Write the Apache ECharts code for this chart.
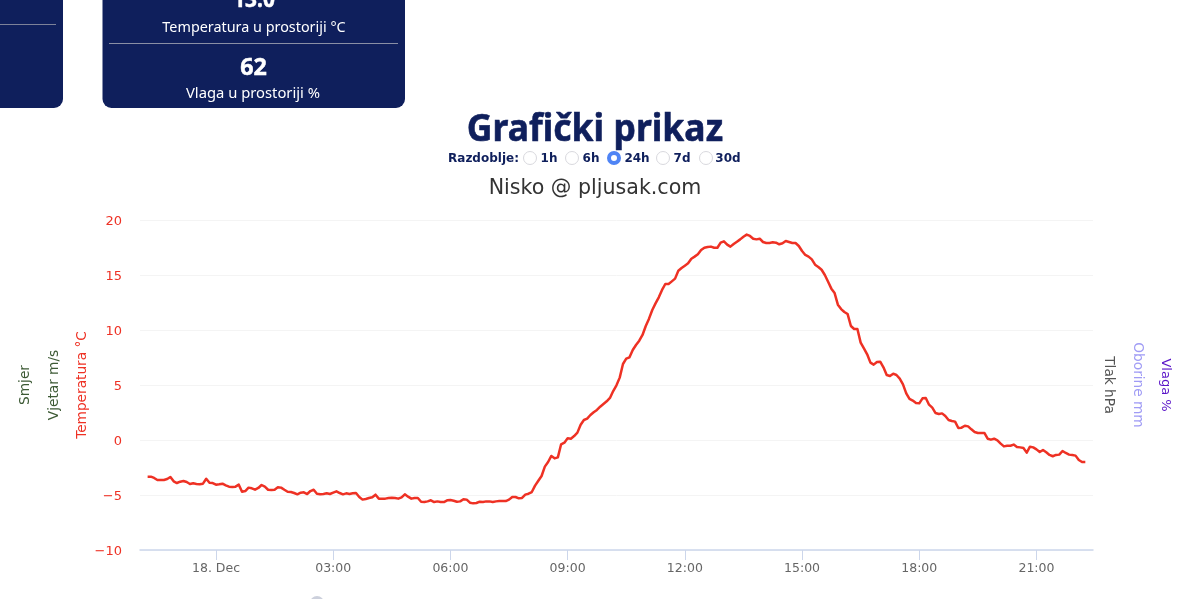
<!DOCTYPE html>
<html><head><meta charset="utf-8">
<style>html,body{margin:0;padding:0;background:#fff;overflow:hidden}#c{width:1200px;height:599px}</style>
<script src="https://cdn.jsdelivr.net/npm/echarts@6/dist/echarts.min.js"></script>
</head><body><div id="c"></div>
<script>
// Temperature, one reading every 5 minutes from 17 Dec 22:15
const stepMinutes = 5;
const startMinute = -105; // minutes relative to midnight 18 Dec
const temperature = [
-3.33,-3.33,-3.45,-3.64,-3.64,-3.64,-3.55,-3.36,-3.76,-3.91,-3.79,-3.73,-3.82,-4.0,-3.94,-4.0,-4.03,-3.97,-3.52,-3.88,
-3.91,-4.06,-4.03,-3.97,-4.12,-4.24,-4.27,-4.24,-4.06,-4.7,-4.64,-4.33,-4.39,-4.52,-4.36,-4.09,-4.24,-4.52,-4.55,-4.52,
-4.3,-4.33,-4.52,-4.7,-4.73,-4.82,-4.94,-4.79,-4.76,-4.91,-4.64,-4.52,-4.88,-4.94,-4.91,-4.85,-4.91,-4.79,-4.67,-4.82,
-4.94,-4.85,-4.91,-4.85,-4.82,-5.18,-5.42,-5.36,-5.27,-5.21,-4.97,-5.33,-5.33,-5.33,-5.27,-5.24,-5.27,-5.33,-5.21,-4.94,
-5.15,-5.33,-5.27,-5.27,-5.61,-5.64,-5.58,-5.48,-5.64,-5.58,-5.64,-5.64,-5.48,-5.45,-5.52,-5.61,-5.58,-5.39,-5.42,-5.7,
-5.76,-5.73,-5.61,-5.64,-5.58,-5.58,-5.64,-5.58,-5.55,-5.55,-5.55,-5.42,-5.18,-5.18,-5.3,-5.27,-4.97,-4.88,-4.73,-4.15,
-3.7,-3.27,-2.42,-2.0,
-1.45,-1.67,-1.58,-0.39,-0.24,0.15,0.12,0.36,0.67,1.39,1.82,1.94,2.27,2.52,2.73,3.03,3.27,3.52,3.82,4.45,
4.97,5.67,6.91,7.39,7.52,8.18,8.64,9.03,9.55,10.36,11.03,11.82,12.42,12.97,13.64,14.18,14.18,14.42,14.67,15.39,
15.64,15.85,16.06,16.48,16.67,16.88,17.27,17.48,17.55,17.58,17.48,17.48,17.94,18.06,17.76,17.58,17.82,18.03,18.24,18.48,
18.67,18.55,18.3,18.24,18.3,18.0,17.91,17.91,17.97,17.94,17.79,17.88,18.09,18.0,17.91,17.91,17.64,17.18,16.82,16.67,
16.42,15.94,15.73,15.48,15.0,14.39,13.76,13.36,12.3,
11.9,11.64,11.45,10.36,10.09,10.09,8.85,8.33,7.79,7.03,6.85,7.09,7.12,6.61,5.91,5.82,6.03,5.91,5.58,5.06,
4.24,3.73,3.58,3.36,3.33,3.79,3.82,3.21,2.94,2.45,2.36,2.42,2.18,1.82,1.73,1.67,1.09,1.12,1.3,1.24,
0.97,0.73,0.64,0.64,0.64,0.12,0.03,0.12,-0.03,-0.33,-0.58,-0.52,-0.52,-0.42,-0.64,-0.67,-0.73,-1.15,-0.61,-0.67,
-0.85,-1.09,-0.91,-1.12,-1.36,-1.48,-1.36,-1.33,-1.0,-1.18,-1.33,-1.36,-1.42,-1.82,-2.0,-2.0
];
const tickMinutes = [0, 180, 360, 540, 720, 900, 1080, 1260];
const tickLabels = ['18. Dec', '03:00', '06:00', '09:00', '12:00', '15:00', '18:00', '21:00'];
const periods = ['1h', '6h', '24h', '7d', '30d'];
const axisMinMinute = -116.7, axisMaxMinute = 1346.8;

const seriesData = temperature.map((v, i) => [startMinute + i * stepMinutes, v]);

const NAVY = '#0f1f5c', RED = '#ee3124';
const sideAxis = (name, color, position, offset, fontSize) => ({
  type: 'value', position, offset, min: 0, max: 1, name, nameLocation: 'middle',
  nameRotate: position === 'left' ? 90 : -90, nameGap: 0,
  nameTextStyle: { color, fontSize: fontSize || 13.7, fontFamily: 'DejaVu Sans' },
  axisLine: { show: false }, axisTick: { show: false }, axisLabel: { show: false }, splitLine: { show: false }
});
const txt = (text, x, y, font, fill, opts) => {
  const o = opts || {};
  return {
    type: 'text', silent: true, x, y, scaleX: o.scaleX || 1,
    style: { text, x: 0, y: 0, font, fill, align: 'center', verticalAlign: 'middle',
      stroke: o.bolden ? fill : null, lineWidth: o.bolden || 0 }
  };
};
const radioX = [530, 572, 614, 663, 706], labelX = [549, 591, 637, 682, 728];
const radios = [];
periods.forEach((p, i) => {
  const on = p === '24h';
  radios.push({ type: 'circle', silent: true, shape: { cx: radioX[i], cy: 158, r: on ? 5 : 6.5 },
    style: on ? { fill: '#fff', stroke: '#4f84f5', lineWidth: 4 } : { fill: '#fff', stroke: '#d9d9de', lineWidth: 1 } });
  radios.push(txt(p, labelX[i], 159, 'bold 12px "DejaVu Sans"', NAVY));
});

const chart = echarts.init(document.getElementById('c'), null, { renderer: 'canvas' });
chart.setOption({
  animation: false,
  backgroundColor: '#fff',
  grid: { left: 140, right: 107, top: 220, bottom: 49 },
  xAxis: {
    type: 'value', min: axisMinMinute, max: axisMaxMinute,
    axisLine: { onZero: false, lineStyle: { color: '#ccd6eb', width: 1.5 } },
    axisTick: { customValues: tickMinutes, length: 10, lineStyle: { color: '#ccd6eb' } },
    axisLabel: { customValues: tickMinutes, color: '#666', fontSize: 12.5, fontFamily: 'DejaVu Sans', margin: 12,
      formatter: v => tickLabels[tickMinutes.indexOf(+v)] || '' },
    splitLine: { show: false }
  },
  yAxis: [
    { type: 'value', position: 'left', min: -10, max: 20, interval: 5, name: 'Temperatura °C', nameLocation: 'middle',
      nameRotate: 90, nameGap: 51, nameMoveOverlap: false,
      nameTextStyle: { color: RED, fontSize: 13.7, fontFamily: 'DejaVu Sans' },
      axisLine: { show: false }, axisTick: { show: false },
      axisLabel: { color: RED, fontSize: 13, fontFamily: 'DejaVu Sans', margin: 18,
        formatter: v => '{t|' + String(v).replace('-', '\u2212') + '}',
        rich: { t: { color: RED, fontSize: 13, fontFamily: 'DejaVu Sans', padding: [4, 0, 0, 0] } } },
      splitLine: { lineStyle: { color: '#f4f4f4', width: 1 } } },
    sideAxis('Vjetar m/s', '#3d5a35', 'left', 79),
    sideAxis('Smjer', '#3d5a35', 'left', 108),
    sideAxis('Tlak hPa', '#555555', 'right', 9),
    sideAxis('Oborine mm', '#a09cf5', 'right', 38),
    sideAxis('Vlaga %', '#5a14c8', 'right', 66, 13)
  ],
  series: [{ name: 'Temperatura °C', type: 'line', yAxisIndex: 0, data: seriesData, showSymbol: false,
    lineStyle: { color: RED, width: 2.5, join: 'round' }, itemStyle: { color: RED } }],
  graphic: { elements: [
    { type: 'rect', silent: true, shape: { x: -20, y: -20, width: 83, height: 128, r: 9 }, style: { fill: NAVY } },
    { type: 'rect', silent: true, shape: { x: 0, y: 24, width: 56, height: 1 }, style: { fill: '#7d8299' } },
    { type: 'rect', silent: true, shape: { x: 102.5, y: -20, width: 302.5, height: 128, r: 9 }, style: { fill: NAVY } },
    { type: 'rect', silent: true, shape: { x: 109, y: 43, width: 289, height: 1 }, style: { fill: '#8a8fa5' } },
    txt('13.0', 254, 0, 'bold 24px "Noto Sans"', '#fff', { scaleX: 0.87, bolden: 0.5 }),
    txt('Temperatura u prostoriji °C', 254, 28, '15px "Noto Sans"', '#fff', { scaleX: 0.958 }),
    txt('62', 253.5, 68, 'bold 24px "Noto Sans"', '#fff', { scaleX: 0.97, bolden: 0.5 }),
    txt('Vlaga u prostoriji %', 253, 94, '15px "Noto Sans"', '#fff', { scaleX: 0.985 }),
    txt('Grafički prikaz', 595, 130, 'bold 38px "Noto Sans"', NAVY, { scaleX: 0.934, bolden: 0.6 }),
    txt('Razdoblje:', 483.5, 159, 'bold 12px "DejaVu Sans"', NAVY),
    ...radios,
    txt('Nisko @ pljusak.com', 595, 189, '20.6px "DejaVu Sans"', '#333333'),
    { type: 'circle', silent: true, shape: { cx: 317, cy: 603, r: 7 }, style: { fill: '#ccd0dc' } }
  ] }
});
</script></body></html>
